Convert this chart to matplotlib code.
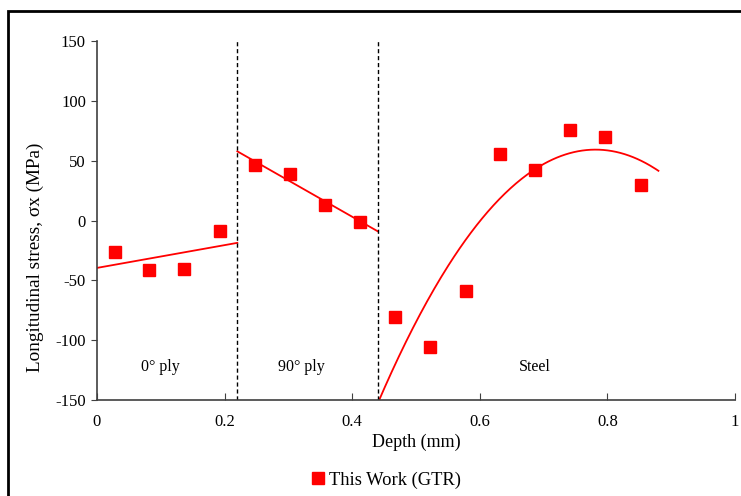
import numpy as np
import matplotlib.pyplot as plt
from matplotlib.patches import Rectangle

plt.rcParams['font.family'] = ['Liberation Serif', 'DejaVu Serif']
plt.rcParams['axes.unicode_minus'] = False

# Measured points (depth in mm, stress in MPa)
ply0_depth = [0.028, 0.082, 0.137, 0.193]
ply0_stress = [-26, -41, -40.5, -9]
ply90_depth = [0.248, 0.303, 0.358, 0.413]
ply90_stress = [46, 39, 13, -1]
steel_depth = [0.467, 0.522, 0.579, 0.632, 0.687, 0.742, 0.797, 0.852]
steel_stress = [-81, -106, -59, 56, 42, 76, 70, 30]

# layer boundaries and labels
boundaries = [0.22, 0.44]
layer_names = ['0° ply', '90° ply', 'Steel']
layer_label_x = [0.10, 0.32, 0.687]

fig = plt.figure(figsize=(7.41, 4.96), dpi=100)
ax = fig.add_axes([0.1309, 0.1935, 0.861, 0.7238])

red = '#FF0000'
all_x = ply0_depth + ply90_depth + steel_depth
all_y = ply0_stress + ply90_stress + steel_stress
ax.plot(all_x, all_y, 's', color=red, markersize=8, linestyle='none',
        label='This Work (GTR)', zorder=3)

# trend lines (least squares fits per layer)
c0 = np.polyfit(ply0_depth, ply0_stress, 1)
x0 = np.linspace(0, 0.22, 50)
ax.plot(x0, np.polyval(c0, x0), color=red, lw=1.3)

c90 = np.polyfit(ply90_depth, ply90_stress, 1)
x90 = np.linspace(0.22, 0.44, 50)
ax.plot(x90, np.polyval(c90, x90), color=red, lw=1.3)

cs = np.polyfit(steel_depth, steel_stress, 2)
xs = np.linspace(0.44, 0.88, 200)
ax.plot(xs, np.polyval(cs, xs), color=red, lw=1.3)

for b in boundaries:
    ax.plot([b, b], [-150, 150], color='black', lw=1, ls=(0, (3, 2)))

for name, lx in zip(layer_names, layer_label_x):
    ax.text(lx, -122, name, ha='center', va='center', fontsize=11.5)

ax.set_xlim(0, 1)
ax.set_ylim(-150, 150)
ax.set_xticks([0, 0.2, 0.4, 0.6, 0.8, 1])
ax.set_xticklabels(['0', '0.2', '0.4', '0.6', '0.8', '1'])
ax.set_yticks(np.arange(-150, 151, 50))

for s in ['top', 'right']:
    ax.spines[s].set_visible(False)
for s in ['left', 'bottom']:
    ax.spines[s].set_color('#404040')
    ax.spines[s].set_linewidth(1.2)
ax.tick_params(axis='y', direction='out', length=4, color='#404040', labelsize=12, pad=4)
ax.tick_params(axis='x', direction='in', length=5, color='#404040', labelsize=12, pad=10)

ax.set_xlabel('Depth (mm)', fontsize=13, labelpad=3)
ax.set_ylabel('Longitudinal stress, σx (MPa)', fontsize=13.8)
ax.yaxis.label.set_va('center')
ax.yaxis.set_label_coords(-0.097, 0.398)

fig.legend(loc='center', bbox_to_anchor=(0.52, 0.032), frameon=False, fontsize=13.3,
           handletextpad=0.1, handlelength=1.0, markerscale=1.0)

# black frame around the figure
fig.patches.append(Rectangle((8 / 741, -0.1), 1.2, 1 - 11 / 496 + 0.1,
                             transform=fig.transFigure, fill=False,
                             edgecolor='black', lw=2))

fig.savefig('out.png', dpi=100)
